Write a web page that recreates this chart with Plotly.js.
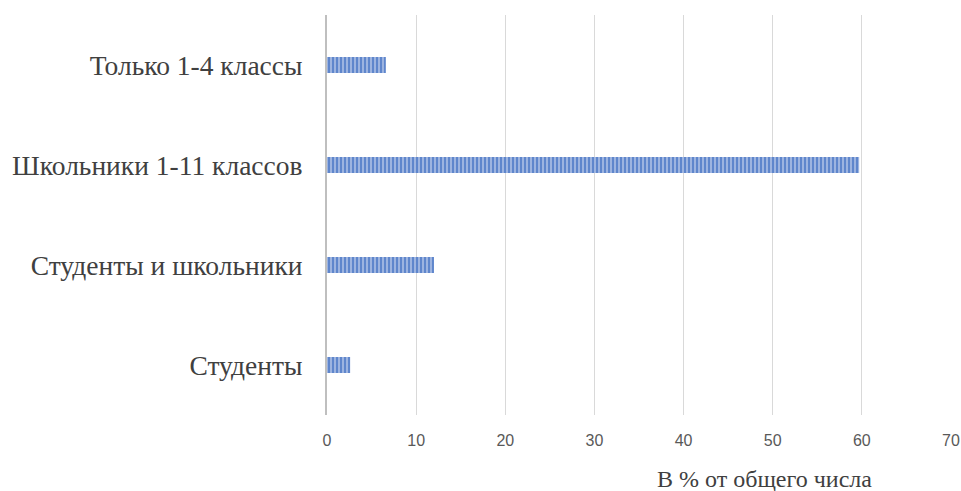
<!DOCTYPE html>
<html>
<head>
<meta charset="utf-8">
<script src="https://cdn.plot.ly/plotly-3.0.1.min.js"></script>
<style>
  html, body { margin: 0; padding: 0; background: #ffffff; }
  #chart { width: 961px; height: 491px; }
</style>
</head>
<body>
<div id="chart"></div>
<script>
// Share of participants by group, percent of total
const categories = ["Студенты", "Студенты и школьники", "Школьники 1-11 классов", "Только 1-4 классы"];
const shares = [2.6, 12.0, 59.7, 6.6];
const xTicks = [0, 10, 20, 30, 40, 50, 60, 70];
const axisTitle = "В % от общего числа";

const trace = {
  type: "bar",
  orientation: "h",
  y: categories,
  x: shares,
  width: 0.16,
  marker: {
    color: "#9db4e0",
    line: { width: 0 },
    pattern: { shape: "|", fgcolor: "#4472c4", bgcolor: "#9db4e0", size: 4, solidity: 0.35 }
  },
  hoverinfo: "x+y"
};

const layout = {
  width: 961,
  height: 491,
  margin: { l: 327, r: 10, t: 15, b: 76 },
  paper_bgcolor: "#ffffff",
  plot_bgcolor: "#ffffff",
  showlegend: false,
  xaxis: {
    range: [0, 70],
    tickvals: xTicks,
    showgrid: true,
    gridcolor: "#d9d9d9",
    gridwidth: 1,
    zeroline: false,
    showline: false,
    ticks: "",
    ticklabelstandoff: 14,
    tickfont: { family: "Liberation Sans, Arial, sans-serif", size: 16, color: "#595959" },
    fixedrange: true
  },
  yaxis: {
    type: "category",
    range: [-0.5, 3.5],
    showgrid: false,
    zeroline: false,
    showline: true,
    linecolor: "#bfbfbf",
    linewidth: 2,
    ticks: "",
    ticklabelstandoff: 17,
    tickfont: { family: "Liberation Serif, Times New Roman, serif", size: 27.5, color: "#404040" },
    fixedrange: true
  },
  annotations: [{
    text: axisTitle,
    xref: "paper", yref: "paper",
    x: 0.701, y: -0.16,
    xanchor: "center", yanchor: "middle",
    showarrow: false,
    font: { family: "Liberation Serif, Times New Roman, serif", size: 24, color: "#404040" }
  }]
};

Plotly.newPlot("chart", [trace], layout, { displayModeBar: false, staticPlot: true });
</script>
</body>
</html>
